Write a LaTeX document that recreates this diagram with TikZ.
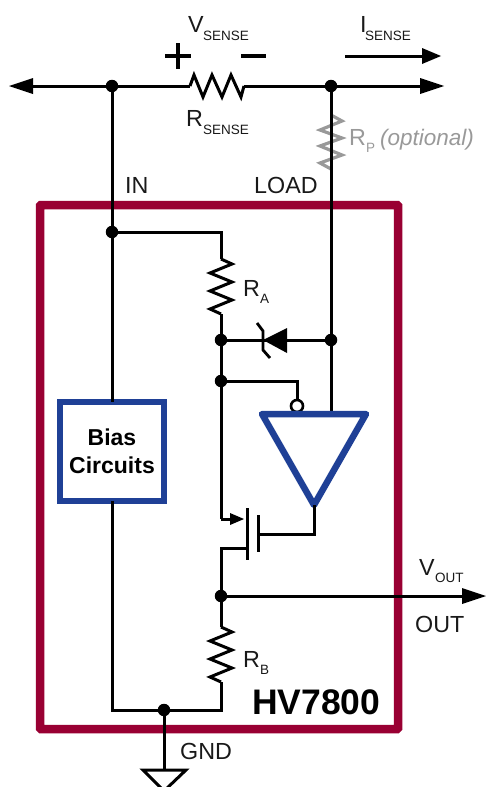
\documentclass[tikz,border=0pt]{standalone}
\usepackage{fontspec}
\setmainfont{Liberation Sans}
\definecolor{chipred}{HTML}{990033}
\definecolor{chipblue}{HTML}{1F4096}
\definecolor{optgray}{HTML}{999999}
\begin{document}
\begin{tikzpicture}[x=1pt,y=-1pt,
  wire/.style={line width=3pt,black,line join=miter},
  zig/.style={line width=3pt,line join=miter},
  dotn/.style={circle,fill=black,inner sep=0pt,minimum size=12.5pt},
  lab/.style={anchor=base west,inner sep=0pt,font=\fontsize{23.3}{23.3}\selectfont,text=black!90},
  sub/.style={anchor=base west,inner sep=0pt,font=\fontsize{13.5}{13.5}\selectfont,text=black!90},
  head/.style={fill=black,draw=none}]
\path[use as bounding box] (0,0) rectangle (486,787);
\clip (0,0) rectangle (486,787);
% chip box
\node[draw=chipred,line width=8.5pt,rounded corners=1pt,minimum width=358pt,minimum height=524pt,inner sep=0pt,outer sep=0pt,anchor=north west] (chip) at (40,205) {};
% junctions and free ends
\node[dotn] (j1) at (112,86) {};
\node[dotn] (j2) at (331,86) {};
\node[dotn] (j3) at (112,232) {};
\node[dotn] (j4) at (221,340) {};
\node[dotn] (j5) at (331,340) {};
\node[dotn] (j6) at (221,381) {};
\node[dotn] (j7) at (221,596) {};
\node[dotn] (j8) at (164,710) {};
\coordinate (lt) at (25,86);
\coordinate (rt) at (425,86);
\coordinate (rsL) at (190,86);
\coordinate (rsR) at (244,86);
\coordinate (raT) at (221,259);
\coordinate (raB) at (221,314);
\coordinate (rbT) at (221,627);
\coordinate (rbB) at (221,682);
\coordinate (c1) at (112,710);
\coordinate (c2) at (221,710);
\coordinate (c3) at (221,232);
\coordinate (out) at (466,596);
\coordinate (gnd) at (164,770);
% optional resistor
\draw[zig,optgray,line width=3.2pt] (331,115) -- (342,121) -- (320,130) -- (342,138) -- (320,146) -- (342,155) -- (320,163) -- (331,169);
% top rail
\draw[wire] (lt) -- (j1) -- (rsL);
\draw[wire] (rsR) -- (j2) -- (rt);
\draw[zig] (rsL) -- (194,75) -- (203,97) -- (212,75) -- (222,97) -- (231,75) -- (241,97) -- (rsR);
\fill[head] (9,86) -- (33,78) -- (33,94) -- cycle;
\fill[head] (444,86) -- (420,78) -- (420,94) -- cycle;
% bias box
\node[draw=chipblue,line width=5.5pt,minimum width=104pt,minimum height=99pt,inner sep=0pt,outer sep=0pt,anchor=north west,align=center,font=\fontsize{23}{28}\selectfont\bfseries] (bias) at (60,402) {Bias\\Circuits};
% wires
\draw[wire] (j1) -- (j3) -- (bias.north -| j1);
\draw[wire] (bias.south -| j1) -- (c1) -- (c2) -- (rbB);
\draw[wire] (j3) -- (c3) -- (raT);
\draw[zig] (raT) -- (232,264) -- (210,273) -- (232,282) -- (210,291) -- (232,300) -- (210,309) -- (raB);
\draw[zig] (rbT) -- (232,632) -- (210,641) -- (232,650) -- (210,659) -- (232,668) -- (210,677) -- (rbB);
\draw[wire] (raB) -- (j4) -- (j6);
\draw[wire] (j7) -- (rbT);
% zener
\draw[wire] (j4) -- (j5);
\fill[head] (263,340) -- (287,328) -- (287,353) -- cycle;
\draw[zig,line width=2.8pt] (257,323) -- (263,331) -- (263,350) -- (270,358);
% amplifier
\node[circle,draw=black,fill=white,line width=2.6pt,minimum size=12pt,inner sep=0pt] (bub) at (297,406) {};
\coordinate (tipA) at (314,505);
\draw[wire] (j6) -- (297,381) -- (bub);
\draw[wire] (j2) -- (331,412);
\draw[wire] (j6) -- (221,519);
\draw[draw=chipblue,line width=6.5pt,line join=round] (262,414) -- (366,414) -- (tipA) -- cycle;
% mosfet
\coordinate (gate) at (258,534);
\coordinate (pA) at (314,534);
\draw[wire] (tipA) -- (pA) -- (gate);
\draw[wire] (258,515) -- (258,552);
\draw[wire] (247,508) -- (247,560);
\draw[wire] (221,519) -- (232,519);
\fill[head] (244,519) -- (230,513) -- (230,525) -- cycle;
\draw[wire] (247,548) -- (221,548) -- (j7);
% output
\draw[wire] (j7) -- (out);
\fill[head] (486,596) -- (462,588) -- (462,604) -- cycle;
% ground
\draw[wire] (j8) -- (gnd);
\draw[wire] (143,770) -- (186,770) -- (164,791) -- cycle;
% plus, minus, current arrow
\draw[line width=4pt] (165,56) -- (191,56);
\draw[line width=4pt] (178,43) -- (178,69);
\draw[line width=4pt] (241,56) -- (266,56);
\coordinate (ia) at (345,56);
\coordinate (ib) at (426,56);
\draw[wire] (ia) -- (ib);
\fill[head] (441,56) -- (422,48) -- (422,64) -- cycle;
% labels
\node[lab] (t1) at (188,32) {V};
\node[sub] (t1s) at (203,40) {SENSE};
\node[lab] (t2) at (360,32) {I};
\node[sub] (t2s) at (365,40) {SENSE};
\node[lab] (t3) at (186,126) {R};
\node[sub] (t3s) at (203,134) {SENSE};
\node[lab,text=optgray] (t4) at (349,145) {R};
\node[sub,text=optgray] (t4s) at (366,152) {P};
\node[lab,text=optgray,font=\fontsize{22.5}{22.5}\selectfont\itshape] (t4o) at (380,145) {(optional)};
\node[lab] (t5) at (125,193) {IN};
\node[lab] (t6) at (254,193) {LOAD};
\node[lab] (t7) at (243,296) {R};
\node[sub] (t7s) at (260,303) {A};
\node[lab] (t8) at (243,667) {R};
\node[sub] (t8s) at (260,674) {B};
\node[lab] (t9) at (419,575) {V};
\node[sub] (t9s) at (435,582) {OUT};
\node[lab] (t10) at (415,632) {OUT};
\node[lab] (t11) at (180,759) {GND};
\node[lab,font=\fontsize{35.5}{35.5}\selectfont\bfseries,text=black] (t12) at (252,714) {HV7800};
\end{tikzpicture}
\end{document}
